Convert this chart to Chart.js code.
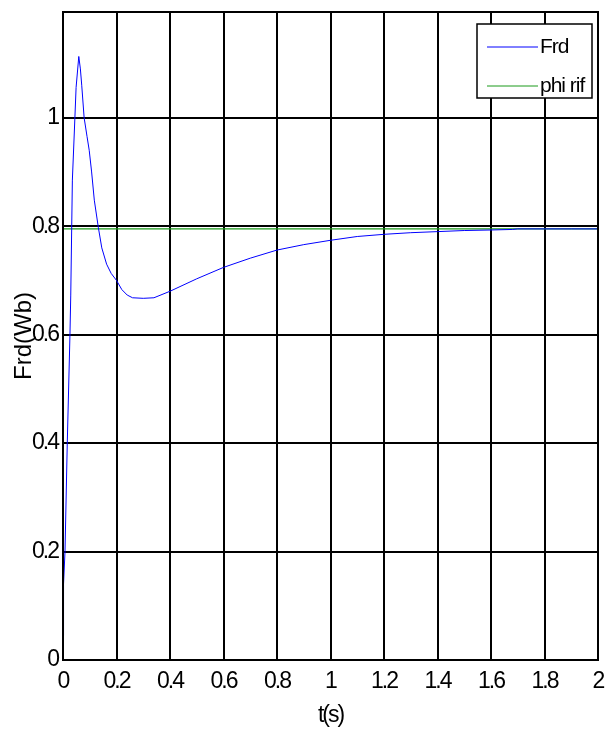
<!DOCTYPE html>
<html>
<head>
<meta charset="utf-8">
<script src="https://cdn.jsdelivr.net/npm/chart.js@4.4.1/dist/chart.umd.min.js"></script>
<style>
  html, body { margin: 0; padding: 0; background: #fff; }
  #wrap { width: 611px; height: 733px; }
</style>
</head>
<body>
<div id="wrap"><canvas id="c" width="611" height="733"></canvas></div>
<script>
// Rotor flux response (Frd) against its reference (phi rif)
const timeS = [0, 0.002, 0.0075, 0.016, 0.026, 0.029, 0.035, 0.042, 0.049, 0.059,
  0.065, 0.07, 0.079, 0.09, 0.098, 0.107, 0.117, 0.132, 0.145, 0.163, 0.18, 0.2,
  0.22, 0.24, 0.26, 0.3, 0.34, 0.4, 0.5, 0.6, 0.7, 0.8, 0.9, 1.0, 1.1, 1.2, 1.3,
  1.4, 1.5, 1.6, 1.68, 1.7, 1.8, 1.9, 2.0];
const frd = [0.045, 0.14, 0.2, 0.4, 0.6, 0.673, 0.885, 0.97, 1.056, 1.113,
  1.09, 1.06, 1.0, 0.965, 0.94, 0.9, 0.848, 0.798, 0.76, 0.73, 0.713, 0.70,
  0.683, 0.673, 0.668, 0.667, 0.668, 0.680, 0.703, 0.724, 0.741, 0.756, 0.766, 0.774, 0.781, 0.785, 0.788,
  0.790, 0.792, 0.793, 0.794, 0.795, 0.795, 0.795, 0.795];
const refTime = [0, 2];
const phiRif = [0.795, 0.795];
const xTicks = [0, 0.2, 0.4, 0.6, 0.8, 1, 1.2, 1.4, 1.6, 1.8, 2];
const yTicks = [0, 0.2, 0.4, 0.6, 0.8, 1];
const yTitle = 'Frd(Wb)';

const FONT = '"Liberation Sans", Arial, sans-serif';

// Tight glyph spacing for all axis text
const tightText = {
  id: 'tightText',
  beforeDraw(chart) {
    chart.ctx.letterSpacing = '-2px';
  }
};

const frame = {
  id: 'frame',
  afterDatasetsDraw(chart) {
    const { ctx, chartArea: a } = chart;
    ctx.save();
    ctx.strokeStyle = '#000';
    ctx.lineWidth = 2;
    ctx.strokeRect(a.left, a.top, a.right - a.left, a.bottom - a.top);
    ctx.restore();
  }
};

// Rotated y-axis title, drawn with normal spacing
const yTitlePlugin = {
  id: 'yTitlePlugin',
  afterDraw(chart) {
    const { ctx, chartArea: a } = chart;
    ctx.save();
    ctx.letterSpacing = '0px';
    ctx.font = '24px ' + FONT;
    ctx.fillStyle = '#000';
    ctx.textAlign = 'center';
    ctx.textBaseline = 'middle';
    ctx.translate(24, (a.top + a.bottom) / 2);
    ctx.rotate(-Math.PI / 2);
    ctx.fillText(yTitle, 0, 0);
    ctx.restore();
  }
};

const boxLegend = {
  id: 'boxLegend',
  afterDraw(chart) {
    const { ctx, chartArea: a } = chart;
    const x0 = a.right - 121, y0 = a.top + 12, w = 115, h = 74;
    ctx.save();
    ctx.letterSpacing = '-1px';
    ctx.fillStyle = '#fff';
    ctx.fillRect(x0, y0, w, h);
    ctx.strokeStyle = '#000';
    ctx.lineWidth = 1.5;
    ctx.strokeRect(x0, y0, w, h);
    ctx.font = '21px ' + FONT;
    ctx.textBaseline = 'middle';
    chart.data.datasets.forEach((ds, i) => {
      const y = y0 + 23 + i * 39;
      ctx.strokeStyle = ds.borderColor;
      ctx.lineWidth = 1;
      ctx.beginPath();
      ctx.moveTo(x0 + 10, y);
      ctx.lineTo(x0 + 61, y);
      ctx.stroke();
      ctx.fillStyle = '#000';
      ctx.fillText(ds.label, x0 + 63, y);
    });
    ctx.restore();
  }
};

new Chart(document.getElementById('c'), {
  type: 'line',
  data: {
    datasets: [
      {
        label: 'Frd',
        data: timeS.map((t, i) => ({ x: t, y: frd[i] })),
        borderColor: '#0000ff',
        borderWidth: 1,
        pointRadius: 0,
        tension: 0
      },
      {
        label: 'phi rif',
        data: refTime.map((t, i) => ({ x: t, y: phiRif[i] })),
        borderColor: '#1a9a1a',
        borderWidth: 1.2,
        pointRadius: 0
      }
    ]
  },
  options: {
    responsive: false,
    animation: false,
    layout: { padding: { top: 12, right: 13, left: 0, bottom: 0 } },
    plugins: { legend: { display: false }, tooltip: { enabled: false } },
    scales: {
      x: {
        type: 'linear',
        min: 0, max: 2,
        afterBuildTicks: s => { s.ticks = xTicks.map(v => ({ value: v })); },
        afterFit: s => { s.height = 73; s.paddingLeft = 0; s.paddingRight = 0; },
        grid: { color: '#000', lineWidth: 2, drawTicks: false },
        border: { display: false },
        ticks: {
          color: '#000', padding: 8, maxRotation: 0,
          font: { family: FONT, size: 23 },
          callback: v => String(+v.toFixed(1))
        },
        title: {
          display: true, text: 't(s)', color: '#000',
          font: { family: FONT, size: 23 },
          padding: { top: 2, bottom: 4 }
        }
      },
      y: {
        type: 'linear',
        min: 0, max: 1.195,
        afterBuildTicks: s => { s.ticks = yTicks.map(v => ({ value: v })); },
        afterFit: s => { s.width = 63; s.paddingTop = 0; s.paddingBottom = 0; },
        grid: { color: '#000', lineWidth: 2, drawTicks: false },
        border: { display: false },
        ticks: {
          color: '#000', padding: 5,
          font: { family: FONT, size: 23 },
          callback: v => String(+v.toFixed(1))
        },
        title: { display: false }
      }
    }
  },
  plugins: [tightText, frame, yTitlePlugin, boxLegend]
});
</script>
</body>
</html>
